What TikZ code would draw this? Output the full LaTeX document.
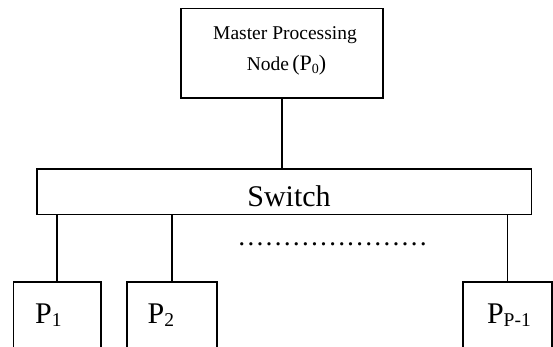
\documentclass[tikz,border=0pt]{standalone}
\usepackage{fontspec}
\setmainfont{Liberation Serif}
\newcommand{\psub}[1]{\raisebox{-3.5pt}{\fontsize{19.5}{19.5}\selectfont #1}}
\newcommand{\msub}[1]{\raisebox{-3pt}{\fontsize{14}{14}\selectfont #1}}
\begin{document}
\begin{tikzpicture}[x=1pt,y=-1pt,
  box/.style={draw=black, line width=1.6pt, inner sep=0pt},
  big/.style={inner sep=0pt, anchor=base, font=\fontsize{30}{30}\selectfont},
  small/.style={inner sep=0pt, anchor=base, font=\fontsize{19.5}{20}\selectfont},
  wire/.style={draw=black, line width=1.6pt}]
\useasboundingbox (0,0) rectangle (553,347);
\clip (0,0) rectangle (553,347);
% boxes
\node[box, minimum width=202pt, minimum height=89.5pt] (m) at (282,53.25) {};
\node[box, minimum width=494.8pt, minimum height=45.3pt] (sw) at (284.2,191.7) {};
\node[box, minimum width=87.7pt, minimum height=67pt] (p1) at (57.2,315.2) {};
\node[box, minimum width=90pt, minimum height=67pt] (p2) at (171.7,315.2) {};
\node[box, minimum width=89pt, minimum height=67pt] (pn) at (507.5,315.2) {};
% texts
\node[small] (mt1) at (285,40) {Master Processing};
\node[small] (mt2) at (286.5,71) {Node\,{\fontsize{22}{22}\selectfont (P\msub{0})}};
\node[big] (swt) at (289,206.7) {Switch};
\node[big] (p1t) at (48.4,323.3) {P\psub{1}};
\node[big] (p2t) at (160.8,323.3) {P\psub{2}};
\node[big] (pnt) at (508.9,323.3) {P\psub{P-1}};
\node[inner sep=0pt, anchor=base west, font=\fontsize{27.2}{28}\selectfont] (dots) at (237.2,245) {…………………};
% connectors
\draw[wire] (m.south) -- (m.south |- sw.north);
\draw[wire] (p1.north) -- (p1.north |- sw.south);
\draw[wire] (p2.north) -- (p2.north |- sw.south);
\draw[wire] (pn.north) -- (pn.north |- sw.south);
\end{tikzpicture}
\end{document}
